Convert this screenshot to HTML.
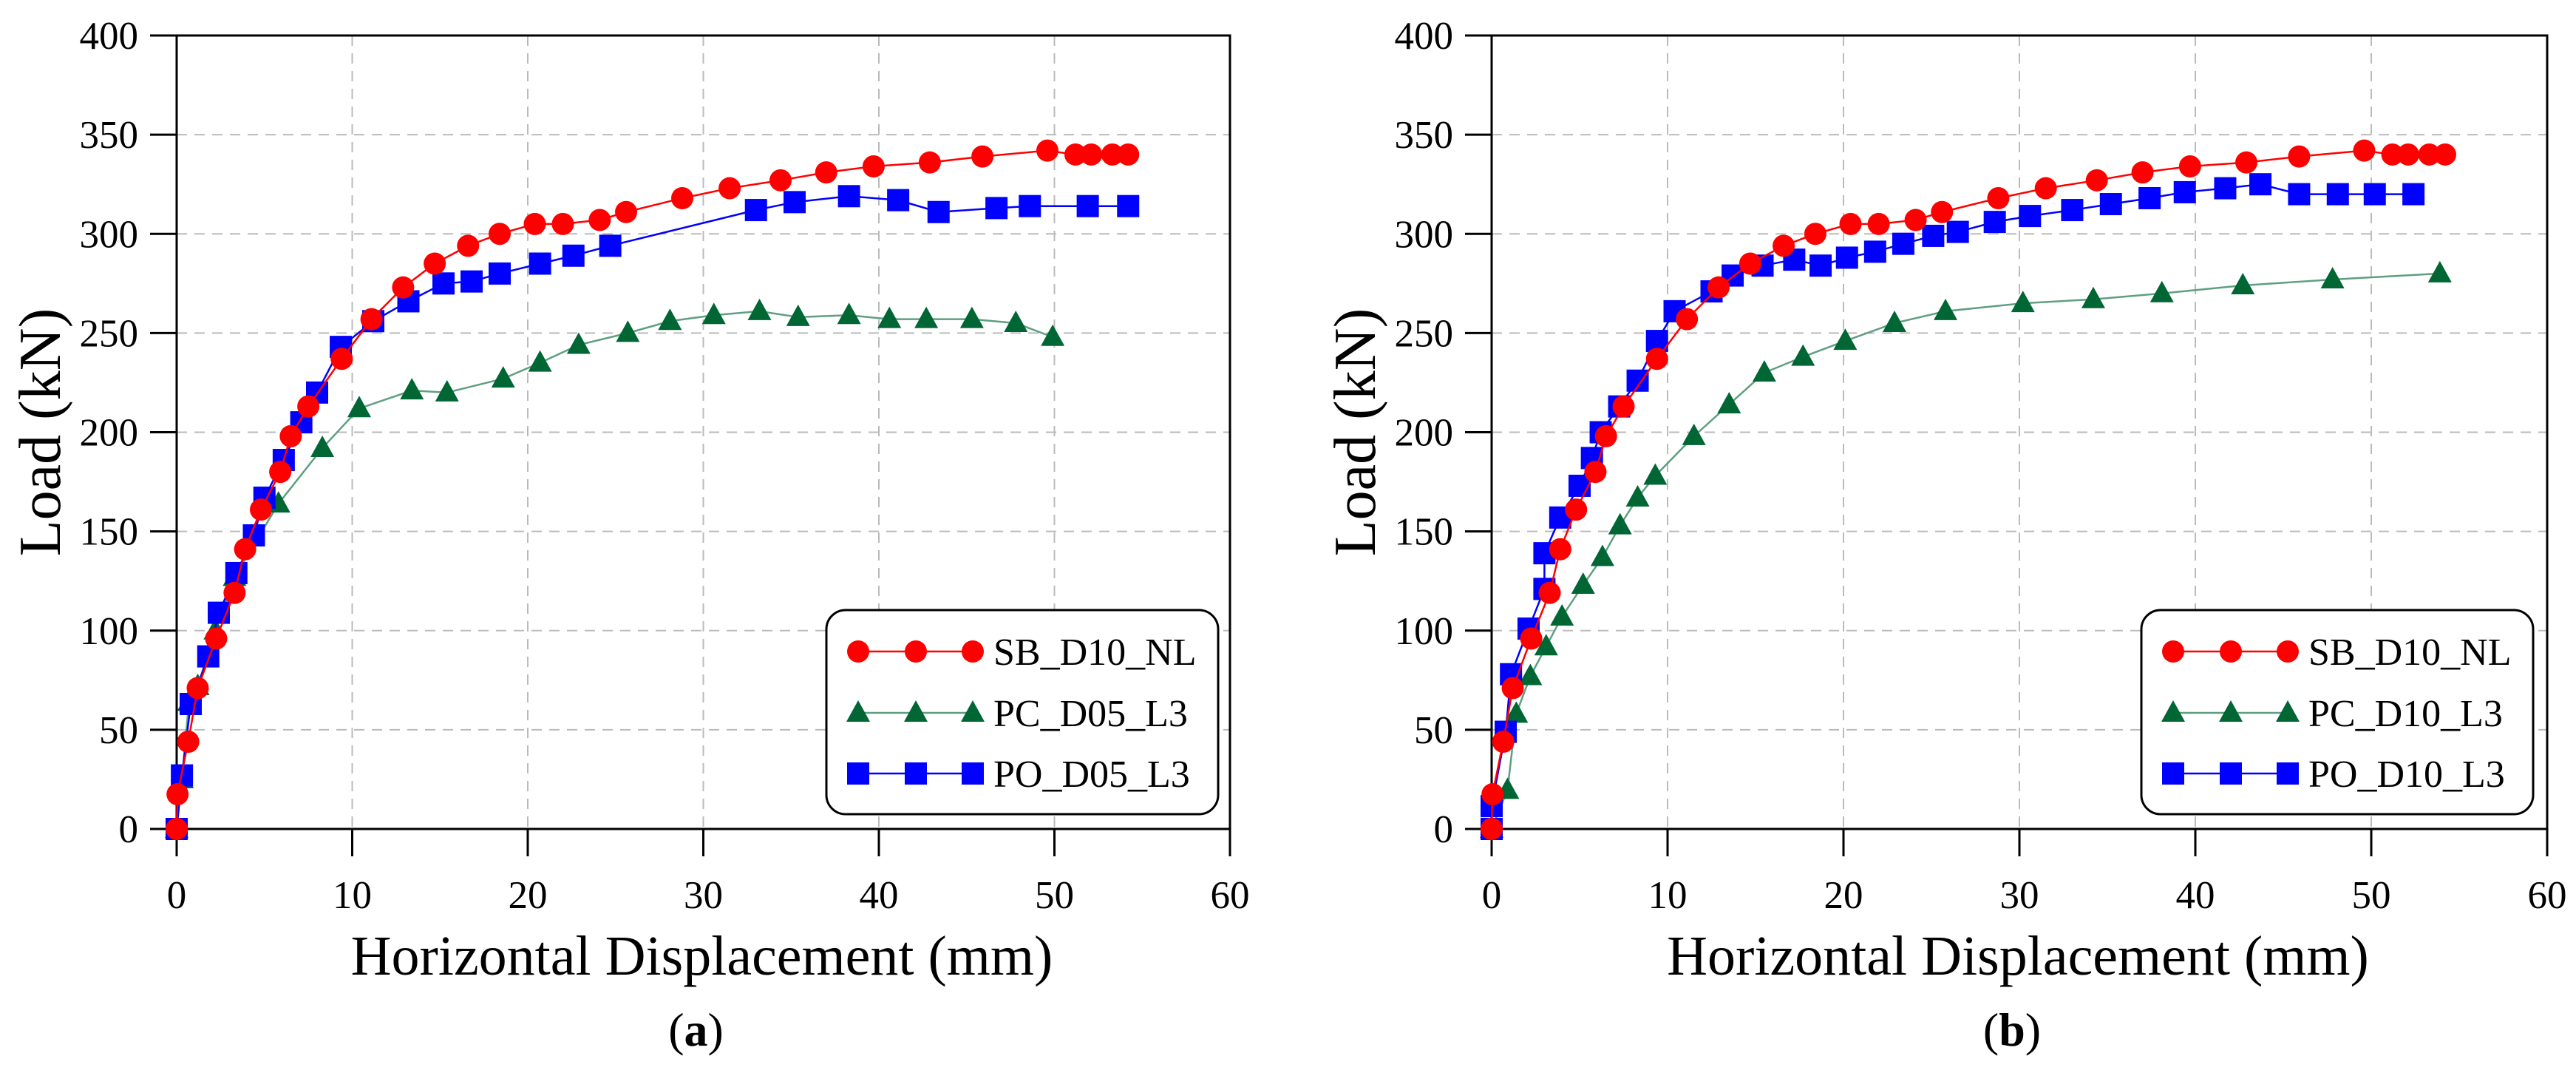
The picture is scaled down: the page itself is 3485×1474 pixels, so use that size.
<!DOCTYPE html>
<html><head><meta charset="utf-8"><style>
html,body{margin:0;padding:0;background:#fff;}
svg{display:block;font-family:"Liberation Serif",serif;}
</style></head><body>
<svg id="root" width="3485" height="1474" viewBox="0 0 3485 1474" xmlns="http://www.w3.org/2000/svg"></svg>
<script>
// ---- data ----
const sbX = [0,0.05,0.66,1.2,2.25,3.3,3.9,4.8,5.9,6.5,7.5,9.4,11.1,12.9,14.7,16.6,18.4,20.4,22,24.1,25.6,28.8,31.5,34.4,37,39.7,42.9,45.9,49.6,51.2,52.1,53.3,54.2];
const sbY = [0,17.5,44,71,96,119,141,161,180,198,213,237,257,273,285,294,300,305,305,307,311,318,323,327,331,334,336,339,342,340,340,340,340];
const pcAX = [0,0.3,0.7,1.2,2.2,3.3,5.8,8.3,10.4,13.4,15.4,18.6,20.7,22.9,25.7,28.1,30.6,33.2,35.4,38.3,40.6,42.7,45.3,47.8,49.9];
const pcAY = [0,25,64,72,100,127,164,192,212,221,220,227,235,244,250,256,259,261,258,259,257,257,257,255,248];
const poAX = [0,0.3,0.8,1.8,2.4,3.4,4.4,5,6.1,7.1,8,9.35,11.2,13.2,15.2,16.8,18.4,20.7,22.6,24.7,33,35.2,38.3,41.1,43.4,46.7,48.6,51.9,54.2];
const poAY = [0,27,63,87,109,129,148,167,186,205,220,243,256,266,275,276,280,285,289,294,312,316,319,317,311,313,314,314,314];
const pcBX = [0,0.9,1.4,2.2,3.1,4.0,5.2,6.3,7.3,8.3,9.3,11.5,13.5,15.5,17.7,20.1,22.9,25.8,30.2,34.2,38.1,42.7,47.8,53.9];
const pcBY = [0,19.6,58,77,92,107,123,137,153,167,178,198,214,230,238,246,255,261,265,267,270,274,277,280];
const poBX = [0,0,0.8,1.1,2.1,3,3,3.9,5,5.7,6.2,7.25,8.3,9.4,10.4,12.5,13.7,15.4,17.2,18.7,20.2,21.8,23.4,25.1,26.5,28.6,30.6,33,35.2,37.4,39.4,41.7,43.7,45.9,48.1,50.2,52.4];
const poBY = [0,11.5,49,78,101,121,139,157,173,187,200,213,226,246,261,271,279,284,287,284,288,291,295,299,301,306,309,312,315,318,321,323,325,320,320,320,320];
const xTicks = [0,10,20,30,40,50,60];
const yTicks = [0,50,100,150,200,250,300,350,400];

const NS = "http://www.w3.org/2000/svg";
const root = document.getElementById('root');
function mk(tag, attrs, parent){const e=document.createElementNS(NS,tag);for(const k in attrs)e.setAttribute(k,attrs[k]);(parent||root).appendChild(e);return e;}

const RED="#ff0000", GREEN="#006633", GLINE="#5f9f80", BLUE="#0000ff";

function panel(p){
  const X0=p.x0, X1=p.x1, Y0=1121, Y1=48;
  const sx=v=>X0+(v/60)*(X1-X0);
  const sy=v=>Y0-(v/400)*(Y0-Y1);
  const g=mk('g',{});
  
  
  xTicks.slice(1,-1).forEach(t=>{const l=mk('line',{x1:sx(t),x2:sx(t),y1:Y1,y2:Y0,stroke:'#bbbbbb','stroke-width':2,'stroke-dasharray':'14,10'},g);
    });
  yTicks.slice(1,-1).forEach(t=>{const l=mk('line',{x1:X0,x2:X1,y1:sy(t),y2:sy(t),stroke:'#bbbbbb','stroke-width':2,'stroke-dasharray':'14,10'},g);
    });
  const fr=mk('path',{d:`M${X0},${Y1} H${X1} V${Y0} H${X0} Z`,fill:'none',stroke:'#000','stroke-width':3},g);
  
  xTicks.forEach(t=>{mk('line',{x1:sx(t),x2:sx(t),y1:Y0,y2:Y0+37,stroke:'#000','stroke-width':3},g);
    const tx=mk('text',{x:sx(t),y:1228,'font-size':53,'text-anchor':'middle',fill:'#000'},g);tx.textContent=t;
    });
  yTicks.forEach(t=>{mk('line',{x1:X0-36,x2:X0,y1:sy(t),y2:sy(t),stroke:'#000','stroke-width':3},g);
    const tx=mk('text',{x:X0-52,y:sy(t)+18,'font-size':53,'text-anchor':'end',fill:'#000'},g);tx.textContent=t;
    });
  const xt=mk('text',{x:(X0+X1)/2-2,y:1318,'font-size':76,'text-anchor':'middle',fill:'#000'},g);
  xt.textContent='Horizontal Displacement (mm)';
  
  const yt=mk('text',{x:0,y:0,'font-size':80,'text-anchor':'middle',fill:'#000',transform:`translate(${X0-158},${(Y0+Y1)/2}) rotate(-90)`},g);
  yt.textContent='Load (kN)';
  
  const cap=mk('text',{x:(X0+X1)/2-10,y:1414,'font-size':64,'text-anchor':'middle',fill:'#000'},g);
  cap.innerHTML='(<tspan font-weight="bold">'+p.id+'</tspan>)';
  

  function marker(shape,color,x,y,parent){
    let m;
    if(shape==='c') m=mk('circle',{cx:x,cy:y,r:15,fill:color},parent);
    else if(shape==='s') m=mk('rect',{x:x-15,y:y-15,width:30,height:30,fill:color},parent);
    else m=mk('polygon',{points:`${x},${y-17} ${x-16},${y+12} ${x+16},${y+12}`,fill:color},parent);
    return m;
  }
  function series(xs,ys,shape,color,lineColor,name){
    const sg=mk('g',{},g);
    
    const pl=mk('polyline',{points:xs.map((v,i)=>sx(v)+','+sy(ys[i])).join(' '),fill:'none',stroke:lineColor,'stroke-width':2.5},sg);
    
    xs.forEach((v,i)=>{const m=marker(shape,color,sx(v),sy(ys[i]),sg);
      });
  }
  series(p.pcX,p.pcY,'t',GREEN,GLINE,'pc');
  series(p.poX,p.poY,'s',BLUE,BLUE,'po');
  series(sbX,sbY,'c',RED,RED,'sb');

  const L=p.lx;
  const lg=mk('g',{},g);
  
  mk('rect',{x:L,y:825,width:530,height:276,rx:26,fill:'#fff',stroke:'#000','stroke-width':3},lg);
  const rows=[['c',RED,RED,'SB_D10_NL',881],['t',GREEN,GLINE,p.pcName,964],['s',BLUE,BLUE,p.poName,1046]];
  rows.forEach(r=>{
    const eg=mk('g',{},lg);
    
    mk('line',{x1:L+43,x2:L+198,y1:r[4],y2:r[4],stroke:r[2],'stroke-width':2.5},eg);
    [43,121,198].forEach(o=>marker(r[0],r[1],L+o,r[4],eg));
    const t=mk('text',{x:L+226,y:r[4]+18,'font-size':52,fill:'#000'},eg);t.textContent=r[3];
  });
}
panel({id:'a',x0:239,x1:1664,lx:1118,pcX:pcAX,pcY:pcAY,poX:poAX,poY:poAY,pcName:'PC_D05_L3',poName:'PO_D05_L3'});
panel({id:'b',x0:2018,x1:3446,lx:2897,pcX:pcBX,pcY:pcBY,poX:poBX,poY:poBY,pcName:'PC_D10_L3',poName:'PO_D10_L3'});
</script>
</body></html>
